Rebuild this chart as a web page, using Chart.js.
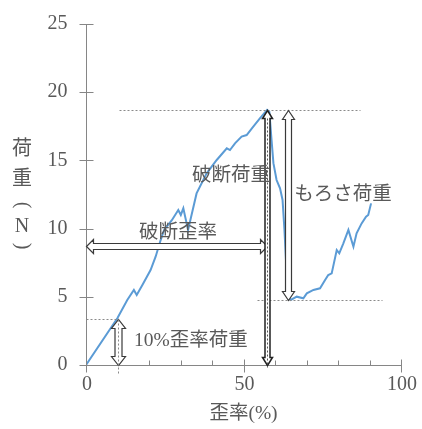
<!DOCTYPE html>
<html>
<head>
<meta charset="utf-8">
<script src="https://cdn.jsdelivr.net/npm/chart.js@4/dist/chart.umd.min.js"></script>
<style>
  html, body { margin: 0; padding: 0; background: #ffffff; }
  canvas { display: block; }
</style>
</head>
<body>
<canvas id="chart" width="422" height="429"></canvas>
<script>
// Load–strain curve of the specimen (strain in %, load in N)
const strain = [0, 10, 13.1, 15.2, 16.1, 17.9, 20.5, 22.1, 23.7, 24.8, 27.2, 29.3, 30.1, 30.9, 32.4,
  35.1, 38.3, 41.5, 44.7, 45.7, 47.3, 49.4, 51.0, 53.1, 55.2, 57.5, 58.2, 58.9, 59.5, 60.5,
  61.6, 62.4, 63.0, 63.7, 64.5, 65.0, 66.9, 69.0, 70.1, 72.2, 74.3, 75.9, 76.9, 78.0, 79.6,
  80.4, 81.7, 83.3, 84.9, 85.9, 87.5, 88.9, 89.6, 90.5];
const load = [0, 3.45, 4.77, 5.5, 5.13, 5.87, 6.96, 7.94, 9.16, 9.9, 10.6, 11.36, 11.0, 11.49, 9.9,
  12.58, 14.05, 15.03, 15.89, 15.76, 16.25, 16.74, 16.86, 17.47, 18.08, 18.7, 18.57, 16.5, 14.8, 13.56,
  12.95, 12.1, 9.9, 6.72, 4.89, 4.77, 5.01, 4.89, 5.25, 5.5, 5.62, 6.23, 6.6, 6.72, 8.43,
  8.19, 8.92, 9.9, 8.67, 9.65, 10.38, 10.87, 11.0, 11.85];

// Axis ticks
const yTicks = [0, 5, 10, 15, 20, 25];
const xMajorTicks = [0, 50, 100];
const xMinorTicks = [10, 20, 30, 40, 60, 70, 80, 90];

// Characteristic values
const breakStrain = 57.6;     // 破断歪率
const breakLoad = 18.7;       // 破断荷重
const brittleStrain = 64.2;   // もろさ荷重 measured here
const minLoad = 4.77;         // load after fracture drop
const strain10 = 10;          // 10% strain
const load10 = 3.4;           // 10%歪率荷重
const strainArrowLoad = 8.72; // height of the 破断歪率 arrow

// Text notes: label, strain, load
const noteTexts = ['破断荷重', '破断歪率', 'もろさ荷重', '10%歪率荷重'];
const noteStrain = [46.0, 29.2, 81.6, 33.3];
const noteLoad = [13.86, 9.68, 12.46, 1.76];

const FONT = '"Liberation Serif", "Noto Sans CJK JP", serif';
const TEXT = '#595959';
const AXIS = '#868686';
const ARROW = '#3a3a3a';

function hollowArrow(ctx, x1, y1, x2, y2, shaft, head, headLen, stroke, lw) {
  const L = Math.hypot(x2 - x1, y2 - y1);
  ctx.save();
  ctx.translate(x1, y1);
  ctx.rotate(Math.atan2(y2 - y1, x2 - x1));
  ctx.beginPath();
  ctx.moveTo(0, 0);
  ctx.lineTo(headLen, -head);
  ctx.lineTo(headLen, -shaft);
  ctx.lineTo(L - headLen, -shaft);
  ctx.lineTo(L - headLen, -head);
  ctx.lineTo(L, 0);
  ctx.lineTo(L - headLen, head);
  ctx.lineTo(L - headLen, shaft);
  ctx.lineTo(headLen, shaft);
  ctx.lineTo(headLen, head);
  ctx.closePath();
  ctx.fillStyle = '#ffffff';
  ctx.fill();
  ctx.strokeStyle = stroke;
  ctx.lineWidth = lw;
  ctx.stroke();
  ctx.restore();
}

function seg(ctx, x1, y1, x2, y2) {
  ctx.beginPath();
  ctx.moveTo(x1, y1);
  ctx.lineTo(x2, y2);
  ctx.stroke();
}

const notesPlugin = {
  id: 'notes',
  afterDatasetsDraw(chart) {
    const { ctx, scales: { x, y } } = chart;
    const px = v => Math.round(x.getPixelForValue(v)) + 0.5;
    const py = v => Math.round(y.getPixelForValue(v)) + 0.5;
    const ax = px(0), ay = py(0);
    ctx.save();

    // tick marks
    ctx.strokeStyle = AXIS;
    ctx.lineWidth = 1;
    yTicks.forEach(v => seg(ctx, ax - 7, py(v), ax + 7, py(v)));
    xMajorTicks.forEach(v => seg(ctx, px(v), ay - 6, px(v), ay + 7));
    xMinorTicks.forEach(v => seg(ctx, px(v), ay - 5, px(v), ay));

    // tick labels
    ctx.fillStyle = TEXT;
    ctx.font = '20px ' + FONT;
    ctx.textBaseline = 'middle';
    ctx.textAlign = 'right';
    yTicks.forEach(v => ctx.fillText(String(v), ax - 19, y.getPixelForValue(v)));
    ctx.textAlign = 'center';
    xMajorTicks.forEach(v => ctx.fillText(String(v), x.getPixelForValue(v) + 1, ay + 19));

    // dotted guide lines
    ctx.strokeStyle = '#8a8a8a';
    ctx.setLineDash([2, 2]);
    seg(ctx, px(10.5), py(breakLoad), px(87), py(breakLoad));
    seg(ctx, px(54.3), py(minLoad), px(94), py(minLoad));
    seg(ctx, ax, py(load10), px(strain10), py(load10));
    ctx.setLineDash([]);

    // 10%歪率荷重 arrow
    hollowArrow(ctx, px(strain10), ay, px(strain10), py(load10), 3.5, 7, 9, ARROW, 1.2);
    ctx.strokeStyle = '#8a8a8a';
    ctx.setLineDash([2, 2]);
    seg(ctx, px(strain10), py(load10), px(strain10), ay + 10);
    ctx.setLineDash([]);

    // 破断歪率 arrow
    hollowArrow(ctx, ax, py(strainArrowLoad), px(breakStrain), py(strainArrowLoad), 3, 7, 7, ARROW, 1.2);

    // 破断荷重 arrow
    hollowArrow(ctx, px(breakStrain), ay, px(breakStrain), py(breakLoad), 2.5, 5, 8, '#222222', 1.5);
    ctx.strokeStyle = '#555555';
    ctx.setLineDash([2, 2]);
    seg(ctx, px(breakStrain), py(breakLoad) + 8, px(breakStrain), ay + 2);
    ctx.setLineDash([]);

    // もろさ荷重 arrow
    hollowArrow(ctx, px(brittleStrain), py(breakLoad), px(brittleStrain), py(minLoad), 3, 6, 9, ARROW, 1.2);

    // notes
    ctx.fillStyle = TEXT;
    ctx.font = '19.5px ' + FONT;
    ctx.textAlign = 'center';
    ctx.textBaseline = 'middle';
    noteTexts.forEach((t, i) => ctx.fillText(t, x.getPixelForValue(noteStrain[i]), y.getPixelForValue(noteLoad[i])));

    // vertical y-axis title 荷重（N）
    const tx = 22;
    ctx.font = '20px ' + FONT;
    ctx.fillText('荷', tx, 150);
    ctx.fillText('重', tx, 180);
    ctx.fillText('N', tx, 227);
    [205, 246].forEach((cy, k) => {
      ctx.save();
      ctx.translate(tx, cy);
      ctx.rotate(Math.PI / 2);
      ctx.fillText(k === 0 ? '(' : ')', 0, 0);
      ctx.restore();
    });

    ctx.restore();
  }
};

new Chart(document.getElementById('chart'), {
  type: 'line',
  data: {
    datasets: [{
      data: strain.map((s, i) => ({ x: s, y: load[i] })),
      borderColor: '#5b9bd5',
      borderWidth: 2,
      pointRadius: 0,
      tension: 0,
      fill: false
    }]
  },
  options: {
    responsive: false,
    animation: false,
    layout: { padding: { left: 0, top: 24, right: 21, bottom: 0 } },
    plugins: { legend: { display: false }, tooltip: { enabled: false } },
    scales: {
      x: {
        type: 'linear',
        min: 0,
        max: 100,
        afterBuildTicks: s => { s.ticks = xMajorTicks.map(v => ({ value: v })); },
        ticks: { display: false },
        grid: { display: false, drawTicks: false },
        border: { display: true, color: AXIS },
        title: { display: true, text: '歪率(%)', font: { family: FONT, size: 19.5 }, color: TEXT, padding: { top: 0, bottom: 3 } },
        afterFit: s => { s.height = 64; }
      },
      y: {
        min: 0,
        max: 25,
        afterBuildTicks: s => { s.ticks = yTicks.map(v => ({ value: v })); },
        ticks: { display: false },
        grid: { display: false, drawTicks: false },
        border: { display: true, color: AXIS },
        afterFit: s => { s.width = 86; }
      }
    }
  },
  plugins: [notesPlugin]
});
</script>
</body>
</html>
